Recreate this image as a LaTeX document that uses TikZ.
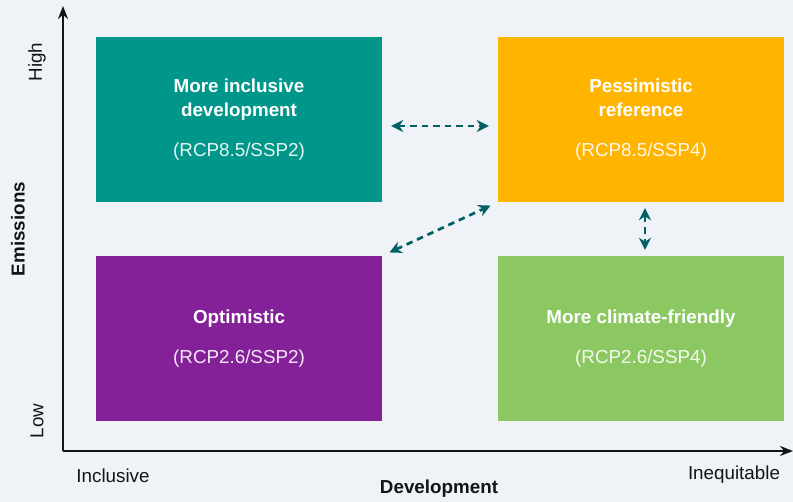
\documentclass[tikz,border=0pt]{standalone}
\usepackage{fontspec}
\setmainfont{Liberation Sans}
\usetikzlibrary{
    arrows.meta,
    positioning
}
\definecolor{bgcol}{RGB}{239,242,247}
\definecolor{tealbox}{RGB}{0,150,137}
\definecolor{orangebox}{RGB}{255,180,0}
\definecolor{purplebox}{RGB}{132,33,153}
\definecolor{greenbox}{RGB}{140,200,97}
\definecolor{linkcol}{RGB}{0,96,100}
\definecolor{axiscol}{RGB}{20,20,20}
\tikzset{
    scenario/.style={minimum width=286pt, minimum height=165pt, inner sep=0pt,
        text=white, align=center, font=\fontsize{18.8}{24}\selectfont},
    link/.style={linkcol, line width=2.7pt, dash pattern=on 6.5pt off 5pt,
        {Stealth[length=12pt,width=12pt]}-{Stealth[length=12pt,width=12pt]}},
    axis/.style={axiscol, line width=2.6pt, -{Stealth[length=13pt,width=10pt]}},
    axislabel/.style={text=axiscol, font=\fontsize{18.8}{22}\selectfont}
}
\begin{document}
\begin{tikzpicture}[x=1pt, y=-1pt]
    \fill[bgcol] (0, 0) rectangle (793, 502);
    \useasboundingbox (0, 0) rectangle (793, 502);
    % axes
    \coordinate (origin) at (63, 451);
    \coordinate (ytip) at (63, 6);
    \coordinate (xtip) at (793, 451);
    \draw[axis] (origin) -- (ytip);
    \draw[axis] (origin) -- (xtip);
    \node[axislabel, rotate=90] (high) at (37, 62) {High};
    \node[axislabel, rotate=90] (low) at (37, 421) {Low};
    \node[axislabel, rotate=90, font=\fontsize{18.8}{22}\selectfont\bfseries] (emissions) at (18, 229) {Emissions};
    \node[axislabel] (inclusive) at (113, 476) {Inclusive};
    \node[axislabel] (inequitable) at (734, 475) {Inequitable};
    \node[axislabel, font=\fontsize{18.8}{22}\selectfont\bfseries] (development) at (439, 489) {Development};
    % scenarios
    \node[scenario, fill=tealbox] (inclusivedev) at (239, 119.5)
        {\bfseries More inclusive\\\bfseries development\\[16pt]\color{white!90!tealbox}(RCP8.5/SSP2)};
    \node[scenario, fill=orangebox] (pessimistic) at (641, 119.5)
        {\bfseries Pessimistic\\\bfseries reference\\[16pt]\color{white!90!orangebox}(RCP8.5/SSP4)};
    \node[scenario, fill=purplebox] (optimistic) at (239, 338.5)
        {\bfseries Optimistic\\[16pt]\color{white!90!purplebox}(RCP2.6/SSP2)};
    \node[scenario, fill=greenbox] (climatefriendly) at (641, 338.5)
        {\bfseries More climate-friendly\\[16pt]\color{white!90!greenbox}(RCP2.6/SSP4)};
    % links
    \draw[link, shorten <=9pt, shorten >=9pt]
        ([yshift=-6.5pt]inclusivedev.east) -- ([yshift=-6.5pt]pessimistic.west);
    \draw[link, shorten <=8pt, shorten >=8pt]
        (optimistic.north east) -- (pessimistic.south west);
    \draw[link, shorten <=6pt, shorten >=6pt]
        ([xshift=4pt]pessimistic.south) -- ([xshift=4pt]climatefriendly.north);
\end{tikzpicture}
\end{document}
